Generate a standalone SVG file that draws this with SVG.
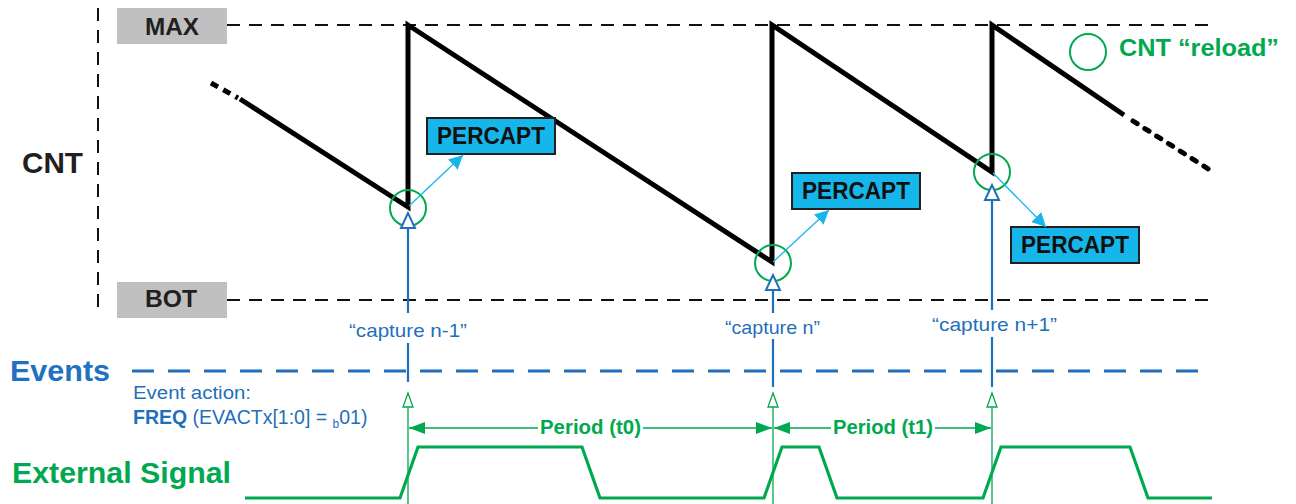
<svg xmlns="http://www.w3.org/2000/svg" width="1296" height="504" viewBox="0 0 1296 504">
<style>
.lbl{font-family:"Liberation Sans",Arial,sans-serif;font-weight:bold;fill:#231f20}
.pc{font-family:"Liberation Sans",Arial,sans-serif;font-weight:bold;font-size:24px;fill:#111}
.box{fill:#17b6ea;stroke:#231f20;stroke-width:2}
.gray{fill:#c0c0c0}
.ref{stroke:#111;stroke-width:2;stroke-dasharray:13 9;fill:none}
.saw{stroke:#000;stroke-width:5;fill:none;stroke-linejoin:miter}
.ring{fill:none;stroke:#00a94f;stroke-width:2}
.cap{stroke:#1f6fba;stroke-width:2.2;fill:none}
.capt{font-family:"Liberation Sans",Arial,sans-serif;font-size:19px;fill:#1f6fba}
.grn{stroke:#00a94f;stroke-width:1.3;fill:none}
.cy{stroke:#17b6ea;stroke-width:1.3;fill:none}
.per{font-family:"Liberation Sans",Arial,sans-serif;font-weight:bold;font-size:20.5px;fill:#00a94f}
</style>
<defs>
<marker id="cyA" viewBox="0 0 10 10" refX="10" refY="5" markerWidth="14" markerHeight="14" markerUnits="userSpaceOnUse" orient="auto"><path d="M0,0 L10,5 L0,10 z" fill="#17b6ea"/></marker>
<marker id="gA" viewBox="0 0 10 10" refX="10" refY="5" markerWidth="16" markerHeight="12" markerUnits="userSpaceOnUse" orient="auto" preserveAspectRatio="none"><path d="M0,0 L10,5 L0,10 z" fill="#00a94f"/></marker>
</defs>

<!-- axes / reference lines -->
<g id="axes">
<line x1="98" y1="8" x2="98" y2="312" class="ref"/>
<line x1="117" y1="25" x2="1215" y2="25" class="ref"/>
<line x1="117" y1="300" x2="1215" y2="300" class="ref"/>
<line x1="132" y1="371" x2="1212" y2="371" stroke="#1f6fba" stroke-width="3" stroke-dasharray="22 14"/>
</g>

<g id="max"><rect x="117" y="8" width="110" height="36" class="gray"/><text x="145" y="35" class="lbl" font-size="24" textLength="54" lengthAdjust="spacingAndGlyphs">MAX</text></g>
<g id="bot"><rect x="117" y="282" width="110" height="36" class="gray"/><text x="145" y="307" class="lbl" font-size="24" textLength="52" lengthAdjust="spacingAndGlyphs">BOT</text></g>
<g id="cnt"><text x="22" y="173" class="lbl" font-size="30" textLength="61" lengthAdjust="spacingAndGlyphs">CNT</text></g>
<g id="events"><text x="10" y="381" font-family="Liberation Sans,Arial,sans-serif" font-weight="bold" font-size="29" fill="#1f72bf" textLength="100" lengthAdjust="spacingAndGlyphs">Events</text></g>
<g id="ext"><text x="12" y="483" font-family="Liberation Sans,Arial,sans-serif" font-weight="bold" font-size="30" fill="#00a94f" textLength="219" lengthAdjust="spacingAndGlyphs">External Signal</text></g>
<g id="action" font-family="Liberation Sans,Arial,sans-serif" font-size="19.5" fill="#1f6fba">
<text x="133" y="399" font-size="18" textLength="118" lengthAdjust="spacingAndGlyphs">Event action:</text>
<text x="133" y="424"><tspan font-weight="bold">FREQ</tspan> (EVACTx[1:0] = <tspan font-size="12" dy="4">b</tspan><tspan dy="-4">01)</tspan></text>
</g>

<!-- sawtooth counter -->
<g id="counter">
<line x1="211" y1="83" x2="238" y2="98" stroke="#000" stroke-width="5" stroke-dasharray="8 6"/>
<polyline class="saw" points="240,99 408,207 408,25 772,262 772,25 992,172 992,25 1124,115"/>
<line x1="1133" y1="121" x2="1210" y2="170" stroke="#000" stroke-width="5" stroke-dasharray="5 9" stroke-linecap="round"/>
</g>

<!-- reload circles -->
<g id="reloads">
<circle cx="408" cy="208" r="18" class="ring"/>
<circle cx="773" cy="263" r="18" class="ring"/>
<circle cx="992" cy="172" r="18" class="ring"/>
</g>
<g id="legend">
<circle cx="1088" cy="52" r="18" class="ring"/>
<text x="1119" y="56" font-family="Liberation Sans,Arial,sans-serif" font-weight="bold" font-size="24" fill="#00a94f" textLength="160" lengthAdjust="spacingAndGlyphs">CNT “reload”</text>
</g>

<!-- PERCAPT boxes -->
<g id="percapt1"><rect x="427" y="118" width="128" height="36" class="box"/><text x="437" y="144" class="pc" textLength="108" lengthAdjust="spacingAndGlyphs">PERCAPT</text></g>
<g id="percapt2"><rect x="792" y="173" width="128" height="36" class="box"/><text x="802" y="199" class="pc" textLength="108" lengthAdjust="spacingAndGlyphs">PERCAPT</text></g>
<g id="percapt3"><rect x="1011" y="227" width="128" height="36" class="box"/><text x="1021" y="253" class="pc" textLength="108" lengthAdjust="spacingAndGlyphs">PERCAPT</text></g>

<!-- capture labels -->
<g id="captures">
<text x="349" y="337" class="capt" textLength="118" lengthAdjust="spacingAndGlyphs">“capture n-1”</text>
<text x="725" y="334" class="capt" textLength="95" lengthAdjust="spacingAndGlyphs">“capture n”</text>
<text x="932" y="331" class="capt" textLength="125" lengthAdjust="spacingAndGlyphs">“capture n+1”</text>
</g>

<!-- period labels -->
<g id="periods">
<text x="540" y="434" class="per" textLength="101" lengthAdjust="spacingAndGlyphs">Period (t0)</text>
<text x="833" y="434" class="per" textLength="100" lengthAdjust="spacingAndGlyphs">Period (t1)</text>
</g>

<!-- connectors -->
<g id="connectors">
<line x1="408" y1="228" x2="408" y2="313" class="cap"/>
<line x1="408" y1="343" x2="408" y2="382" class="cap"/>
<path d="M408,213 L401,228 L415,228 z" fill="#fff" stroke="#1f6fba" stroke-width="2"/>
<line x1="773" y1="290" x2="773" y2="313" class="cap"/>
<line x1="773" y1="339" x2="773" y2="387" class="cap"/>
<path d="M773,275 L766,290 L780,290 z" fill="#fff" stroke="#1f6fba" stroke-width="2"/>
<line x1="992" y1="200" x2="992" y2="310" class="cap"/>
<line x1="992" y1="337" x2="992" y2="387" class="cap"/>
<path d="M992,185 L985,200 L999,200 z" fill="#fff" stroke="#1f6fba" stroke-width="2"/>

<line x1="409" y1="206" x2="463" y2="155" class="cy" marker-end="url(#cyA)"/>
<line x1="773" y1="262" x2="829" y2="210" class="cy" marker-end="url(#cyA)"/>
<line x1="993" y1="173" x2="1046" y2="227" class="cy" marker-end="url(#cyA)"/>

<line x1="408" y1="407" x2="408" y2="504" class="grn"/>
<path d="M408,393 L403,407 L413,407 z" fill="#fff" stroke="#00a94f" stroke-width="1.3"/>
<line x1="773" y1="407" x2="773" y2="504" class="grn"/>
<path d="M773,393 L768,407 L778,407 z" fill="#fff" stroke="#00a94f" stroke-width="1.3"/>
<line x1="992" y1="407" x2="992" y2="504" class="grn"/>
<path d="M992,393 L987,407 L997,407 z" fill="#fff" stroke="#00a94f" stroke-width="1.3"/>

<line x1="538" y1="428" x2="409" y2="428" class="grn" marker-end="url(#gA)"/>
<line x1="643" y1="428" x2="772" y2="428" class="grn" marker-end="url(#gA)"/>
<line x1="831" y1="428" x2="774" y2="428" class="grn" marker-end="url(#gA)"/>
<line x1="935" y1="428" x2="991" y2="428" class="grn" marker-end="url(#gA)"/>

<polyline points="245,498 400,498 418,447 582,447 600,498 764,498 782,447 819,447 837,498 983,498 1001,447 1130,447 1148,498 1212,498" fill="none" stroke="#00a94f" stroke-width="3.2" stroke-linejoin="miter"/>
</g>
</svg>
